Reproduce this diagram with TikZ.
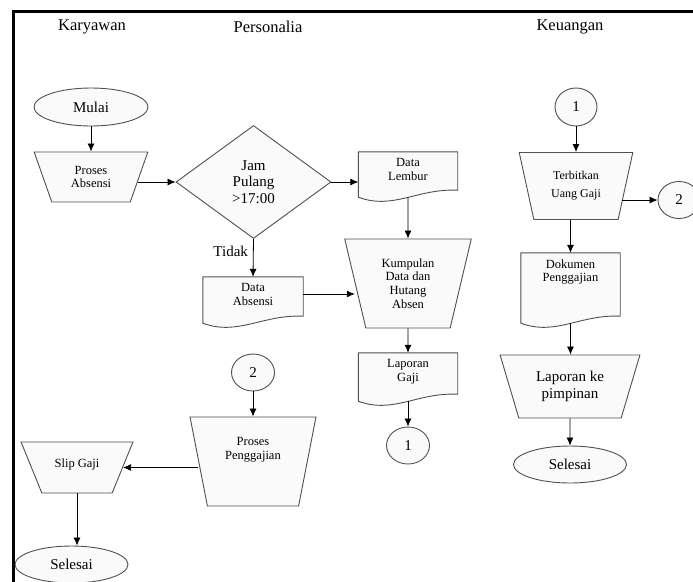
\documentclass[tikz,border=0pt]{standalone}
\usepackage{fontspec}
\setmainfont{Liberation Serif}
\usetikzlibrary{shapes.geometric,arrows.meta,calc,backgrounds}
\definecolor{linec}{HTML}{505050}
\definecolor{fillc}{HTML}{FAFAFA}
\newcommand\docshape[1]{%
  \draw[box] (#1.north west) -- (#1.north east) -- ([yshift=7pt]#1.south east)
    .. controls ($(#1.south west)!0.6!(#1.south east)+(0pt,9pt)$) and ($(#1.south west)!0.35!(#1.south east)+(0pt,-13pt)$) .. (#1.south west) -- cycle;}
\begin{document}
\begin{tikzpicture}[x=1pt,y=-1pt,
  head/.style={font=\fontsize{16.5}{18}\selectfont},
  big/.style={font=\fontsize{15}{16.5}\selectfont},
  small/.style={font=\fontsize{12.5}{13.7}\selectfont},
  box/.style={draw=linec, fill=fillc, line width=0.9pt},
  trap/.style n args={3}{trapezium, trapezium stretches=true, shape border rotate=180,
     trapezium angle=#1, minimum width=#2, minimum height=#3, inner sep=0pt, box, align=center},
  term/.style={ellipse, box, inner sep=0pt, align=center, big},
  docnode/.style={rectangle, inner sep=0pt, draw=none},
  doclabel/.style={small, anchor=north, align=center, yshift=-3pt},
  arr/.style={-{Latex[length=8pt,width=7pt]}, line width=0.8pt, black}]
\useasboundingbox (0,0) rectangle (693,581);
\clip (0,0) rectangle (693,581);

% frame
\draw[line width=2.6pt, line join=miter] (13.3,590) -- (13.3,11.3) -- (700,11.3);

% headings
\node[head] (hk) at (92,27) {Karyawan};
\node[head] (hp) at (268,27) {Personalia};
\node[head] (hu) at (570,27) {Keuangan};

% Karyawan / Personalia column
\node[term, minimum width=114pt, minimum height=38pt] (mulai) at (91,107) {Mulai};
\node[trap={67.7}{114pt}{50pt}, small] (pa) at (91,177) {Proses\\Absensi};
\node[diamond, box, minimum width=155pt, minimum height=113pt, inner sep=0pt, align=center, big] (jam) at (253.5,182) {Jam\\Pulang\\>17:00};

\node[docnode, minimum width=99pt, minimum height=45pt,
      label={[doclabel]north:Data\\Lembur}] (dl) at (408,174.5) {};
\node[docnode, minimum width=100pt, minimum height=46pt,
      label={[doclabel]north:Data\\Absensi}] (da) at (253,300) {};
\node[trap={75.2}{127pt}{89pt}, small] (kum) at (408,283.5) {Kumpulan\\Data dan\\Hutang\\Absen};
\node[docnode, minimum width=99pt, minimum height=48pt,
      label={[doclabel]north:Laporan\\Gaji}] (lg) at (408,377) {};
\node[term, minimum width=43pt, minimum height=37pt] (c1a) at (408,445.5) {1};

% Keuangan column
\node[term, minimum width=42pt, minimum height=38pt] (c1b) at (576,107) {1};
\node[trap={73.4}{114pt}{67pt}, font=\fontsize{12}{18}\selectfont] (terb) at (576,186) {Terbitkan\\Uang Gaji};
\node[term, minimum width=42pt, minimum height=37pt] (c2a) at (679,200) {2};
\node[docnode, minimum width=99pt, minimum height=70pt,
      label={[doclabel]north:Dokumen\\Penggajian}] (dp) at (570.5,288) {};
\node[trap={67.6}{141pt}{63pt}, big] (lap) at (570,386.5) {Laporan ke\\pimpinan};
\node[term, minimum width=113pt, minimum height=37pt] (s2) at (570,464.5) {Selesai};

% lower left
\node[term, minimum width=43pt, minimum height=37pt] (c2b) at (253,372.5) {2};
\node[trap={75.5}{126pt}{89pt},
      label={[small, align=center, yshift=12pt]center:Proses\\Penggajian}] (pp) at (253,461.5) {\phantom{M}};
\node[trap={68.1}{112pt}{51pt},
      label={[small, yshift=3pt]center:Slip Gaji}] (slip) at (77,467.5) {\phantom{M}};
\node[term, minimum width=113pt, minimum height=37pt] (s1) at (71.5,564.5) {Selesai};

\begin{scope}[on background layer]
  \docshape{dl}
  \docshape{da}
  \docshape{lg}
  \docshape{dp}
\end{scope}

% connectors
\draw[arr] (mulai) -- (pa);
\draw[arr] ([xshift=-2pt]pa.east |- jam.west) -- (jam.west);
\draw[arr] (jam.east) -- (jam.east -| dl.west);
\draw[arr] (jam.south) -- node[big, left, pos=0.32, inner sep=5pt] (tidak) {Tidak} (da.north);
\draw[arr] (dl.south) -- (kum.north);
\draw[arr] ([yshift=6pt]da.east) -- ([yshift=6pt]da.east -| kum.west);
\draw[arr] (kum.south) -- (lg.north);
\draw[arr] (lg.south) -- (c1a);
\draw[arr] (c1b) -- (terb);
\draw[arr] ([xshift=-4pt]c2a.west -| terb.east) -- (c2a.west);
\draw[arr] (terb.south -| dp.north) -- (dp.north);
\draw[arr] (dp.south) -- (dp.south |- lap.north);
\draw[arr] (lap) -- (s2);
\draw[arr] (c2b) -- (pp);
\draw[arr] (slip.east -| pp.west) -- (slip.east);
\draw[arr] (slip.south) -- (slip.south |- s1.north);
\end{tikzpicture}
\end{document}
